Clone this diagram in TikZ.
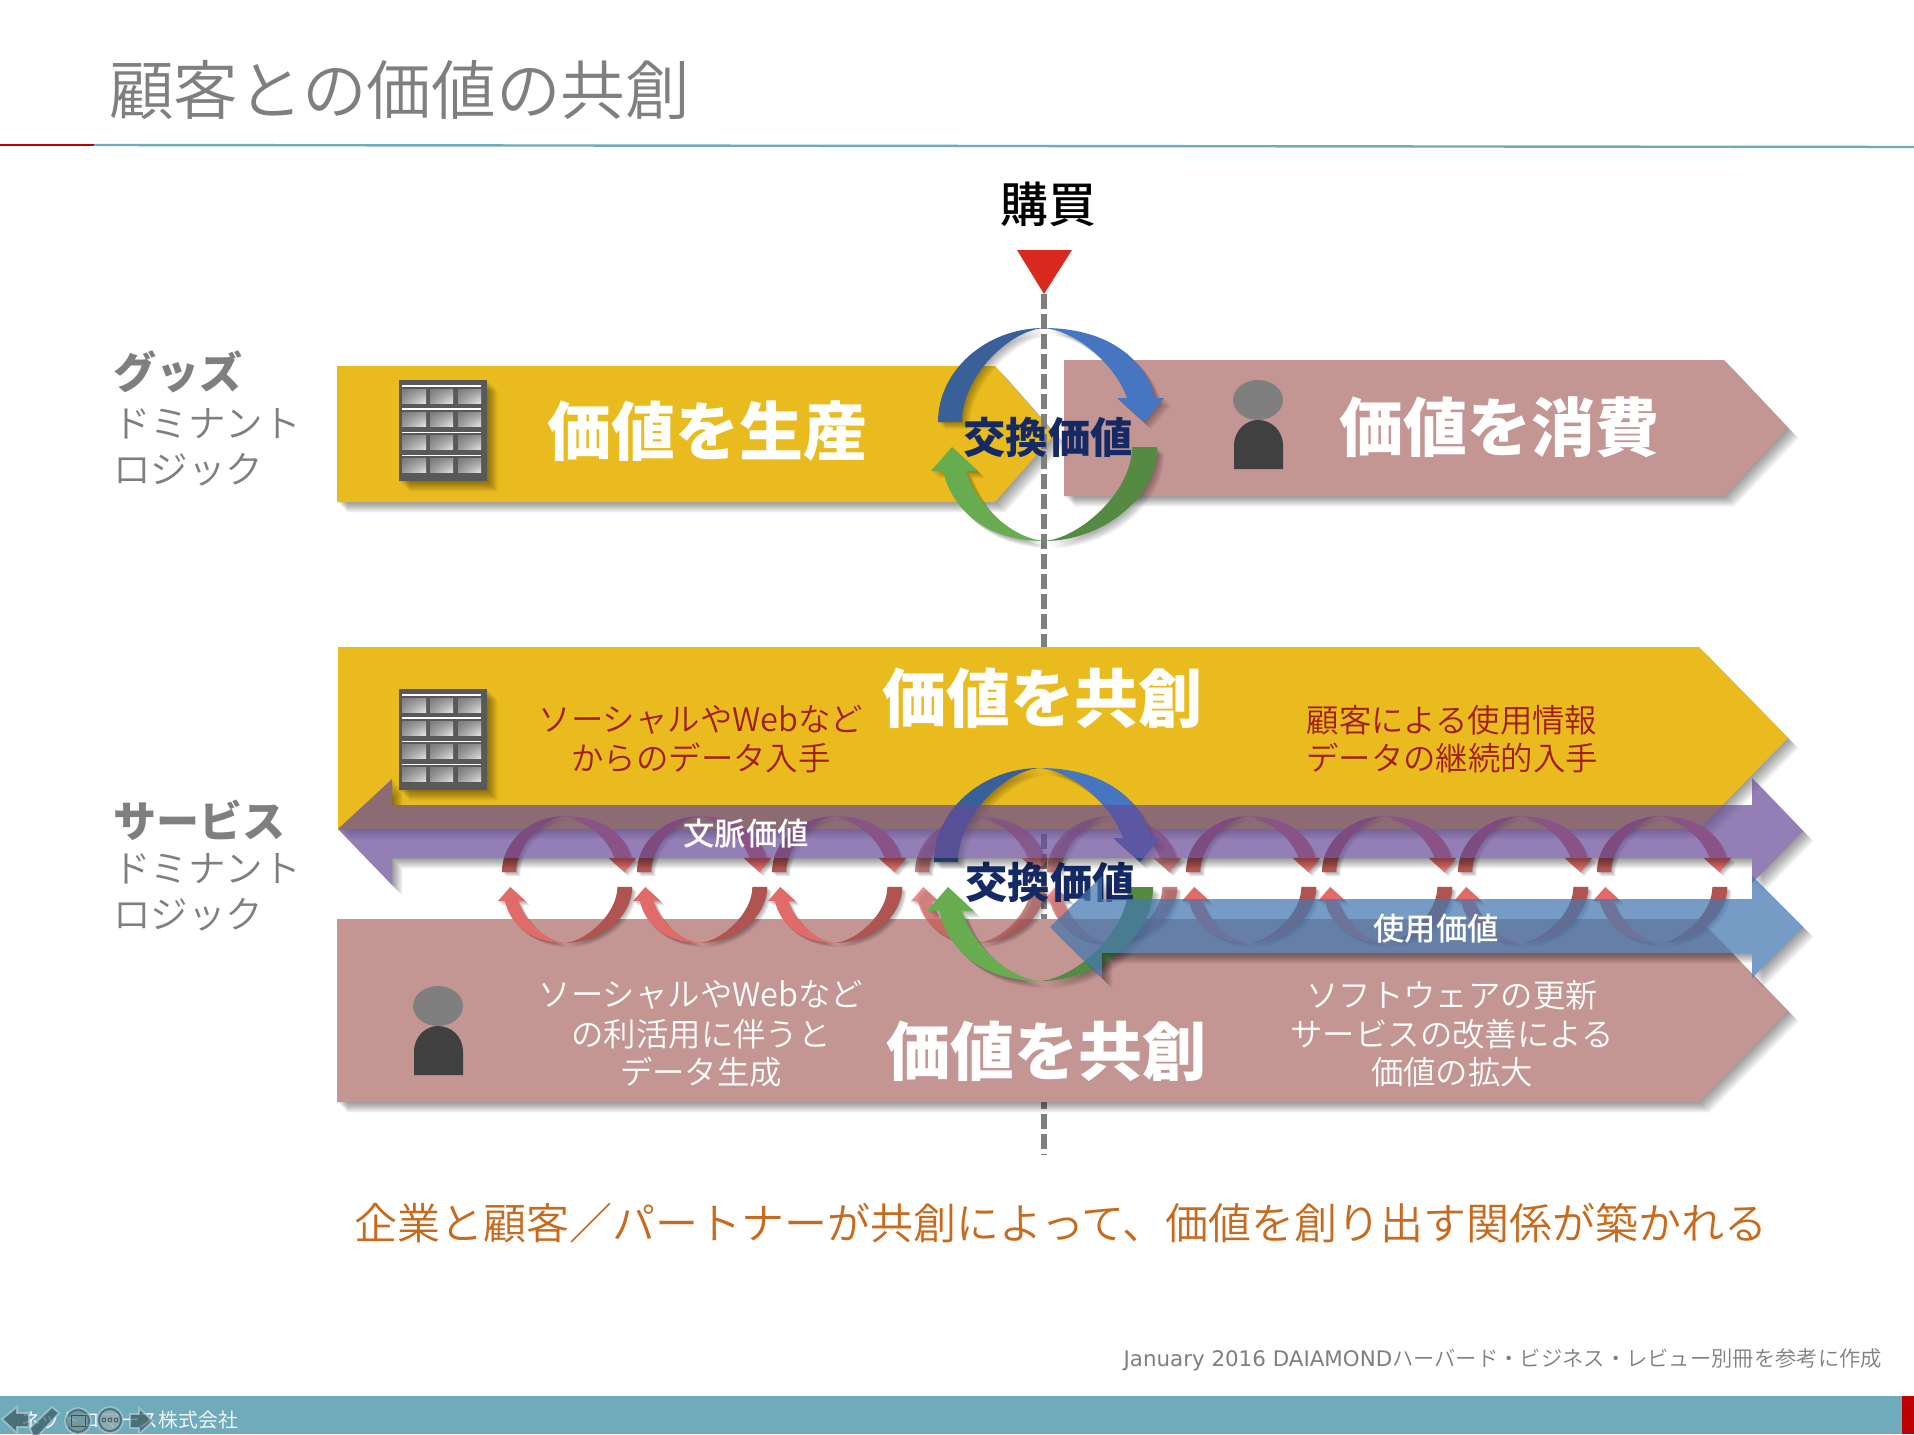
\documentclass[tikz,border=0pt]{standalone}
\usepackage{fontspec}
\setmainfont{Noto Sans CJK JP}
\newfontfamily\jl{Noto Sans CJK JP DemiLight}
\newfontfamily\jm{Noto Sans CJK JP Medium}
\newfontfamily\djv{DejaVu Sans}
\usetikzlibrary{calc,shadings}
\definecolor{yel}{HTML}{EABB1E}
\definecolor{rosec}{HTML}{C39593}
\definecolor{greyt}{HTML}{7F7F7F}
\definecolor{teal2}{HTML}{6FABBB}
\definecolor{navy2}{HTML}{152A65}
\definecolor{darkred2}{HTML}{A01E14}
\definecolor{orange2}{HTML}{C8691C}
\definecolor{bluedk}{HTML}{3A6099}
\definecolor{bluelt}{HTML}{4676C2}
\definecolor{grndk}{HTML}{548A42}
\definecolor{grnlt}{HTML}{68AC50}
\definecolor{reddk}{HTML}{B05452}
\definecolor{redlt}{HTML}{E06B68}
\definecolor{purp}{HTML}{664A96}
\definecolor{blueb}{HTML}{4277B0}
\definecolor{redtri}{HTML}{DA2A1F}
\newcommand\shad[1]{\foreach \s in {1,...,14}{\fill[black,opacity=.03,xshift=\s*.38pt,yshift=-\s*.38pt] #1;}}
\newcommand\shadl[1]{\foreach \s in {1,...,8}{\fill[black,opacity=.045,xshift=\s*.45pt,yshift=-\s*.45pt] #1;}}
\newcommand\fsz[1]{\fontsize{#1}{#1}\selectfont}
% the four-part cycle, drawn about its own centre
\newcommand\cycleloop[8]{%
\begin{scope}[shift={(#1,#2)},scale=#3,opacity=#8]
\def\pa{(-106,-12.5) .. controls (-106,-64) and (-58,-106.5) .. (0,-106.5) .. controls (-35,-104) and (-82,-58) .. (-82,-12.5) -- cycle}
\def\pb{(0,-106.5) .. controls (58,-106.5) and (100,-80) .. (111,-36.5) -- (120,-36.5) -- (100,-12.5) -- (73,-36.5) -- (83,-36.5) .. controls (72,-68) and (35,-103) .. (0,-106.5) -- cycle}
\def\pc{(113,12.5) .. controls (113,64) and (58,106.5) .. (0,106.5) .. controls (35,104) and (88,58) .. (88,12.5) -- cycle}
\def\pd{(0,106.5) .. controls (-58,106.5) and (-92,75) .. (-101,36.5) -- (-113,36.5) -- (-92,12.5) -- (-66,36.5) -- (-78,36.5) .. controls (-68,68) and (-35,103) .. (0,106.5) -- cycle}
\shadl\pa \shadl\pb \shadl\pc \shadl\pd
\fill[#4] \pa; \fill[#5] \pb; \fill[#6] \pc; \fill[#7] \pd;
\end{scope}}
\newcommand\buildingicon[2]{%
\begin{scope}[shift={(#1,#2)}]
\def\pe{(399,380) rectangle (487,481)}
\shad\pe
\fill[black!65] \pe;
\foreach \yy in {389,412,435.7,458.7}{
 \draw[white,line width=.6pt] (402,\yy-3) -- (481,\yy-3);
 \foreach \xx/\xe in {402/426,430/453,458/481}{
  \shade[upper left=black!52,lower right=black!10,upper right=black!40,lower left=black!40] (\xx,\yy) rectangle (\xe,\yy+14);
 }}
\end{scope}}
\newcommand\personicon[2]{%
\begin{scope}[shift={(#1,#2)}]
\def\pf{(1234,469) -- (1234,446) .. controls (1234,430) and (1246,420) .. (1258,420) .. controls (1271,420) and (1283,430) .. (1283,446) -- (1283,469) -- cycle}
\def\pg{(1258,400) ellipse [x radius=25,y radius=20]}
\fill[black!75] \pf;
\fill[greyt] \pg;
\end{scope}}
\tikzset{
 whitebig/.style={text=white,font=\bfseries\fsz{32}},
 swap2/.style={text=navy2,font=\bfseries\fsz{21.2}},
 sidebold/.style={text=greyt,font=\bfseries\fsz{21.5},anchor=west},
 sidelight/.style={text=greyt,font=\jl\fsz{18.8},anchor=west},
 band/.style={text=white,font=\jm\fsz{15.7}},
 redtxt/.style={text=darkred2,font=\jl\fsz{16.2}},
 whtxt/.style={text=white,font=\jl\fsz{16.2}},
}
\begin{document}
\begin{tikzpicture}[x=.5pt,y=-.5pt]
\useasboundingbox (0,0) rectangle (1914,1434);
\fill[white] (0,0) rectangle (1914,1434);
% title
\node[anchor=west,text=greyt,font=\jl\fsz{32.3}] (title) at (102,90) {顧客との価値の共創};
\coordinate (la) at (0,145); \coordinate (lb) at (94,145); \coordinate (lc) at (1914,147);
\draw[teal2,line width=1.2pt] (lb) -- (lc);
\draw[red!75!black,line width=1.2pt] (la) -- (lb);
% side labels
\node[sidebold] (g1) at (106,372) {グッズ};
\node[sidelight] (g2) at (106,424) {ドミナント};
\node[sidelight] (g3) at (106,470) {ロジック};
\node[sidebold] (s1) at (106,820) {サービス};
\node[sidelight] (s2) at (106,869) {ドミナント};
\node[sidelight] (s3) at (106,915) {ロジック};
% top arrows
\def\topyel{(337,366) -- (995,366) -- (1055,434) -- (995,502) -- (337,502) -- cycle}
\shad\topyel \fill[yel] \topyel;
\coordinate (da) at (1044,294); \coordinate (db) at (1044,1155);
\draw[greyt,line width=2.8pt,dash pattern=on 7.5pt off 2.5pt] (da) -- (db);
\def\toprose{(1064,360) -- (1724,360) -- (1788,428) -- (1724,496) -- (1064,496) -- cycle}
\shad\toprose \fill[rosec] \toprose;
% purchase marker
\node[font=\jm\fsz{24}] (buy) at (1048,204) {購買};
\def\tria{(1017,250) -- (1072,250) -- (1044,294) -- cycle}
\fill[redtri] \tria;
\buildingicon{0}{0}
\personicon{0}{0}
\node[whitebig] (t1) at (707,431) {価値を生産};
\node[whitebig] (t2) at (1499,427) {価値を消費};
\cycleloop{1044}{434.5}{1}{bluedk}{bluelt}{grndk}{grnlt}{1}
\node[swap2] (x1) at (1048,437) {交換価値};
% lower arrows
\def\lowyel{(338,647) -- (1699,647) -- (1788,738) -- (1699,829) -- (338,829) -- cycle}
\shad\lowyel \fill[yel] \lowyel;
\def\lowrose{(337,919) -- (1699,919) -- (1788,1011) -- (1699,1102) -- (337,1102) -- cycle}
\shad\lowrose \fill[rosec] \lowrose;
\buildingicon{0}{309}
\personicon{-820}{606}
% small cycles
\foreach \cx/\op in {565/1,700/1,835/1,978/.7,1110/.7,1249/1,1385/1,1521/1,1660/1}{
 \cycleloop{\cx}{879.5}{.595}{reddk}{redlt}{reddk}{redlt}{\op}
}
% big cycle
\cycleloop{1040}{874.5}{1}{bluedk}{bluelt}{grndk}{grnlt}{1}
\node[swap2] (x2) at (1050,882) {交換価値};
% purple band
\def\purpband{(338,829) -- (392,779) -- (392,805) -- (1752,805) -- (1752,778) -- (1803,831) -- (1752,883) -- (1752,858) -- (392,858) -- (392,885) -- cycle}
\begin{scope}[even odd rule]
\clip (-10,-10) rectangle (1930,1450) \purpband;
\shad\purpband
\end{scope}
\fill[purp,opacity=.7] \purpband;
% blue band
\def\bluband{(1050,927) -- (1102,876) -- (1102,899) -- (1752,899) -- (1752,876) -- (1803,927) -- (1752,978) -- (1752,953) -- (1102,953) -- (1102,978) -- cycle}
\begin{scope}[even odd rule]
\clip (-10,-10) rectangle (1930,1450) \bluband;
\shad\bluband
\end{scope}
\fill[blueb,opacity=.72] \bluband;
% texts on the lower arrows
\node[band] (ctx) at (746,834) {文脈価値};
\node[band] (use) at (1436,929) {使用価値};
\node[whitebig] (t3) at (1042,698) {価値を共創};
\node[whitebig] (t4) at (1046,1051) {価値を共創};
\node[redtxt] (r1) at (701,720) {ソーシャルやWebなど};
\node[redtxt] (r2) at (701,758) {からのデータ入手};
\node[redtxt] (r3) at (1452,720) {顧客による使用情報};
\node[redtxt] (r4) at (1452,758) {データの継続的入手};
\node[whtxt] (w1) at (701,995) {ソーシャルやWebなど};
\node[whtxt] (w2) at (701,1034) {の利活用に伴うと};
\node[whtxt] (w3) at (701,1072) {データ生成};
\node[whtxt] (w4) at (1452,995) {ソフトウェアの更新};
\node[whtxt] (w5) at (1452,1034) {サービスの改善による};
\node[whtxt] (w6) at (1452,1072) {価値の拡大};
% conclusion and source
\node[text=orange2,font=\jl\fsz{21.5}] (concl) at (1061,1223) {企業と顧客／パートナーが共創によって、価値を創り出す関係が築かれる};
\node[anchor=east,text=greyt,font=\jl\fsz{10.65}] (src) at (1889,1360) {{\djv\fsz{10.7}January 2016 DAIAMOND}ハーバード・ビジネス・レビュー別冊を参考に作成};
% footer
\fill[teal2] (0,1396) rectangle (1914,1434);
\fill[red!75!black] (1902,1396) rectangle (1914,1434);
\node[anchor=west,text=white,font=\jl\fsz{9.9}] (foot) at (14,1420) {ネットコマース株式会社};
\begin{scope}[opacity=.62,draw=teal2!45!white,line width=.9pt,fill=teal2!45!black]
\filldraw (2,1419) -- (17,1407) -- (17,1413) -- (29,1413) -- (29,1427) -- (17,1427) -- (17,1433) -- cycle;
\filldraw (33,1436) -- (30,1428) -- (52,1407) -- (59,1413) -- (38,1436) -- cycle;
\filldraw (78,1421) circle [radius=13];
\filldraw (110,1420) circle [radius=13];
\filldraw (153,1421) -- (139,1408) -- (139,1414) -- (130,1414) -- (130,1428) -- (139,1428) -- (139,1434) -- cycle;
\end{scope}
\fill[teal2!70!white,opacity=.5] (78,1421) circle [radius=10];
\draw[black!70,line width=.5pt] (71,1415) rectangle (85,1426);
\fill[teal2!50!white,opacity=.6] (110,1420) circle [radius=10];
\foreach \dx in {104,110,116}{\draw[black!70,line width=.4pt] (\dx,1420) circle [radius=2];}
\end{tikzpicture}
\end{document}
